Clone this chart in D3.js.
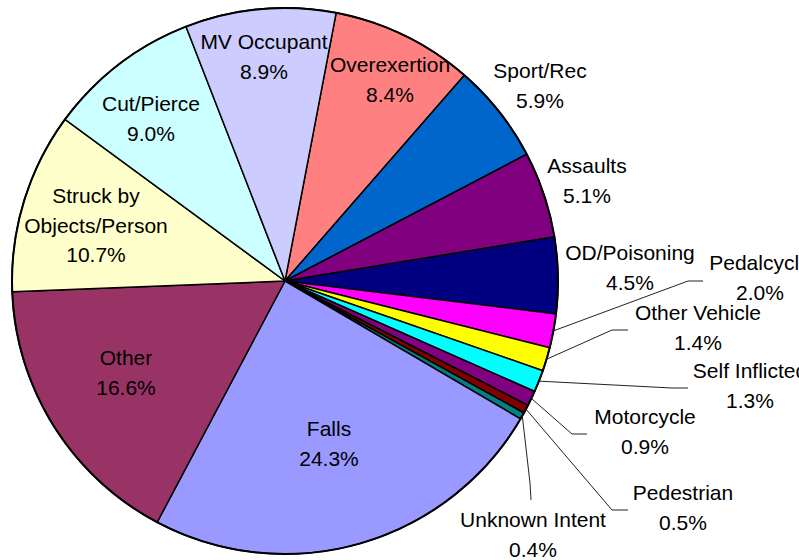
<!DOCTYPE html>
<html>
<head>
<meta charset="utf-8">
<script src="https://cdn.jsdelivr.net/npm/d3@7"></script>
<style>
  html, body { margin: 0; padding: 0; background: #fff; }
  svg { display: block; }
  text { font-family: "Liberation Sans", Arial, sans-serif; font-size: 21px; fill: #000; }
</style>
</head>
<body>
<svg id="chart" width="799" height="560"></svg>
<script>
// ---- data ----
const categories = ["Overexertion", "Sport/Rec", "Assaults", "OD/Poisoning", "Pedalcycle",
  "Other Vehicle", "Self Inflicted", "Motorcycle", "Pedestrian", "Unknown Intent",
  "Falls", "Other", "Struck by Objects/Person", "Cut/Pierce", "MV Occupant"];
const values = [8.4, 5.9, 5.1, 4.5, 2.0, 1.4, 1.3, 0.9, 0.5, 0.4, 24.3, 16.6, 10.7, 9.0, 8.9];
const colors = ["#FF8080", "#0066CC", "#800080", "#000080", "#FF00FF",
  "#FFFF00", "#00FFFF", "#800080", "#800000", "#008080",
  "#9999FF", "#993366", "#FFFFCC", "#CCFFFF", "#CCCCFF"];
const labelLines = [["Overexertion"], ["Sport/Rec"], ["Assaults"], ["OD/Poisoning"], ["Pedalcycle"],
  ["Other Vehicle"], ["Self Inflicted"], ["Motorcycle"], ["Pedestrian"], ["Unknown Intent"],
  ["Falls"], ["Other"], ["Struck by", "Objects/Person"], ["Cut/Pierce"], ["MV Occupant"]];

// ---- layout (label anchor: center x, first baseline y; optional leader elbow/end) ----
const labelLayout = [
  {x: 390, y: 72}, {x: 540, y: 78}, {x: 587, y: 173}, {x: 630, y: 260},
  {x: 760, y: 270, leader: [[688, 281], [703, 281]]},
  {x: 698, y: 320, leader: [[612, 330], [628, 330]]},
  {x: 750, y: 378, leader: [[672, 388], [688, 388]]},
  {x: 645, y: 424, leader: [[572, 434], [587, 434]]},
  {x: 683, y: 500, leader: [[612, 510], [628, 510]]},
  {x: 533, y: 527, leader: [[530, 483], [531, 500]]},
  {x: 329, y: 436}, {x: 126, y: 365}, {x: 96, y: 203}, {x: 151, y: 111}, {x: 264, y: 49}
];

const cx = 285, cy = 281, R = 273;
const offset = 10.8 * Math.PI / 180;
const lineH = 29.5;

const svg = d3.select("#chart");
const g = svg.append("g").attr("transform", `translate(${cx},${cy})`);

const pie = d3.pie().sort(null).value(d => d)
  .startAngle(offset).endAngle(offset + 2 * Math.PI);
const arcs = pie(values);
const arc = d3.arc().innerRadius(0).outerRadius(R);

g.selectAll("path.slice")
  .data(arcs)
  .join("path")
  .attr("class", "slice")
  .attr("d", arc)
  .attr("fill", (d, i) => colors[i])
  .attr("stroke", "#000")
  .attr("stroke-width", 1.5)
  .attr("stroke-linejoin", "round");

g.append("circle").attr("r", R).attr("fill", "none").attr("stroke", "#000").attr("stroke-width", 2);

// leader lines
const line = d3.line();
arcs.forEach((d, i) => {
  const L = labelLayout[i];
  if (!L.leader) return;
  const a = (d.startAngle + d.endAngle) / 2;
  const start = [cx + R * Math.sin(a), cy - R * Math.cos(a)];
  svg.append("path")
    .attr("d", line([start, ...L.leader]))
    .attr("fill", "none")
    .attr("stroke", "#222")
    .attr("stroke-width", 1);
});

// labels
arcs.forEach((d, i) => {
  const L = labelLayout[i];
  const lines = labelLines[i].concat([d3.format(".1f")(values[i]) + "%"]);
  const t = svg.append("text").attr("text-anchor", "middle");
  lines.forEach((s, k) => {
    t.append("tspan").attr("x", L.x).attr("y", L.y + k * lineH).text(s);
  });
});
</script>
</body>
</html>
